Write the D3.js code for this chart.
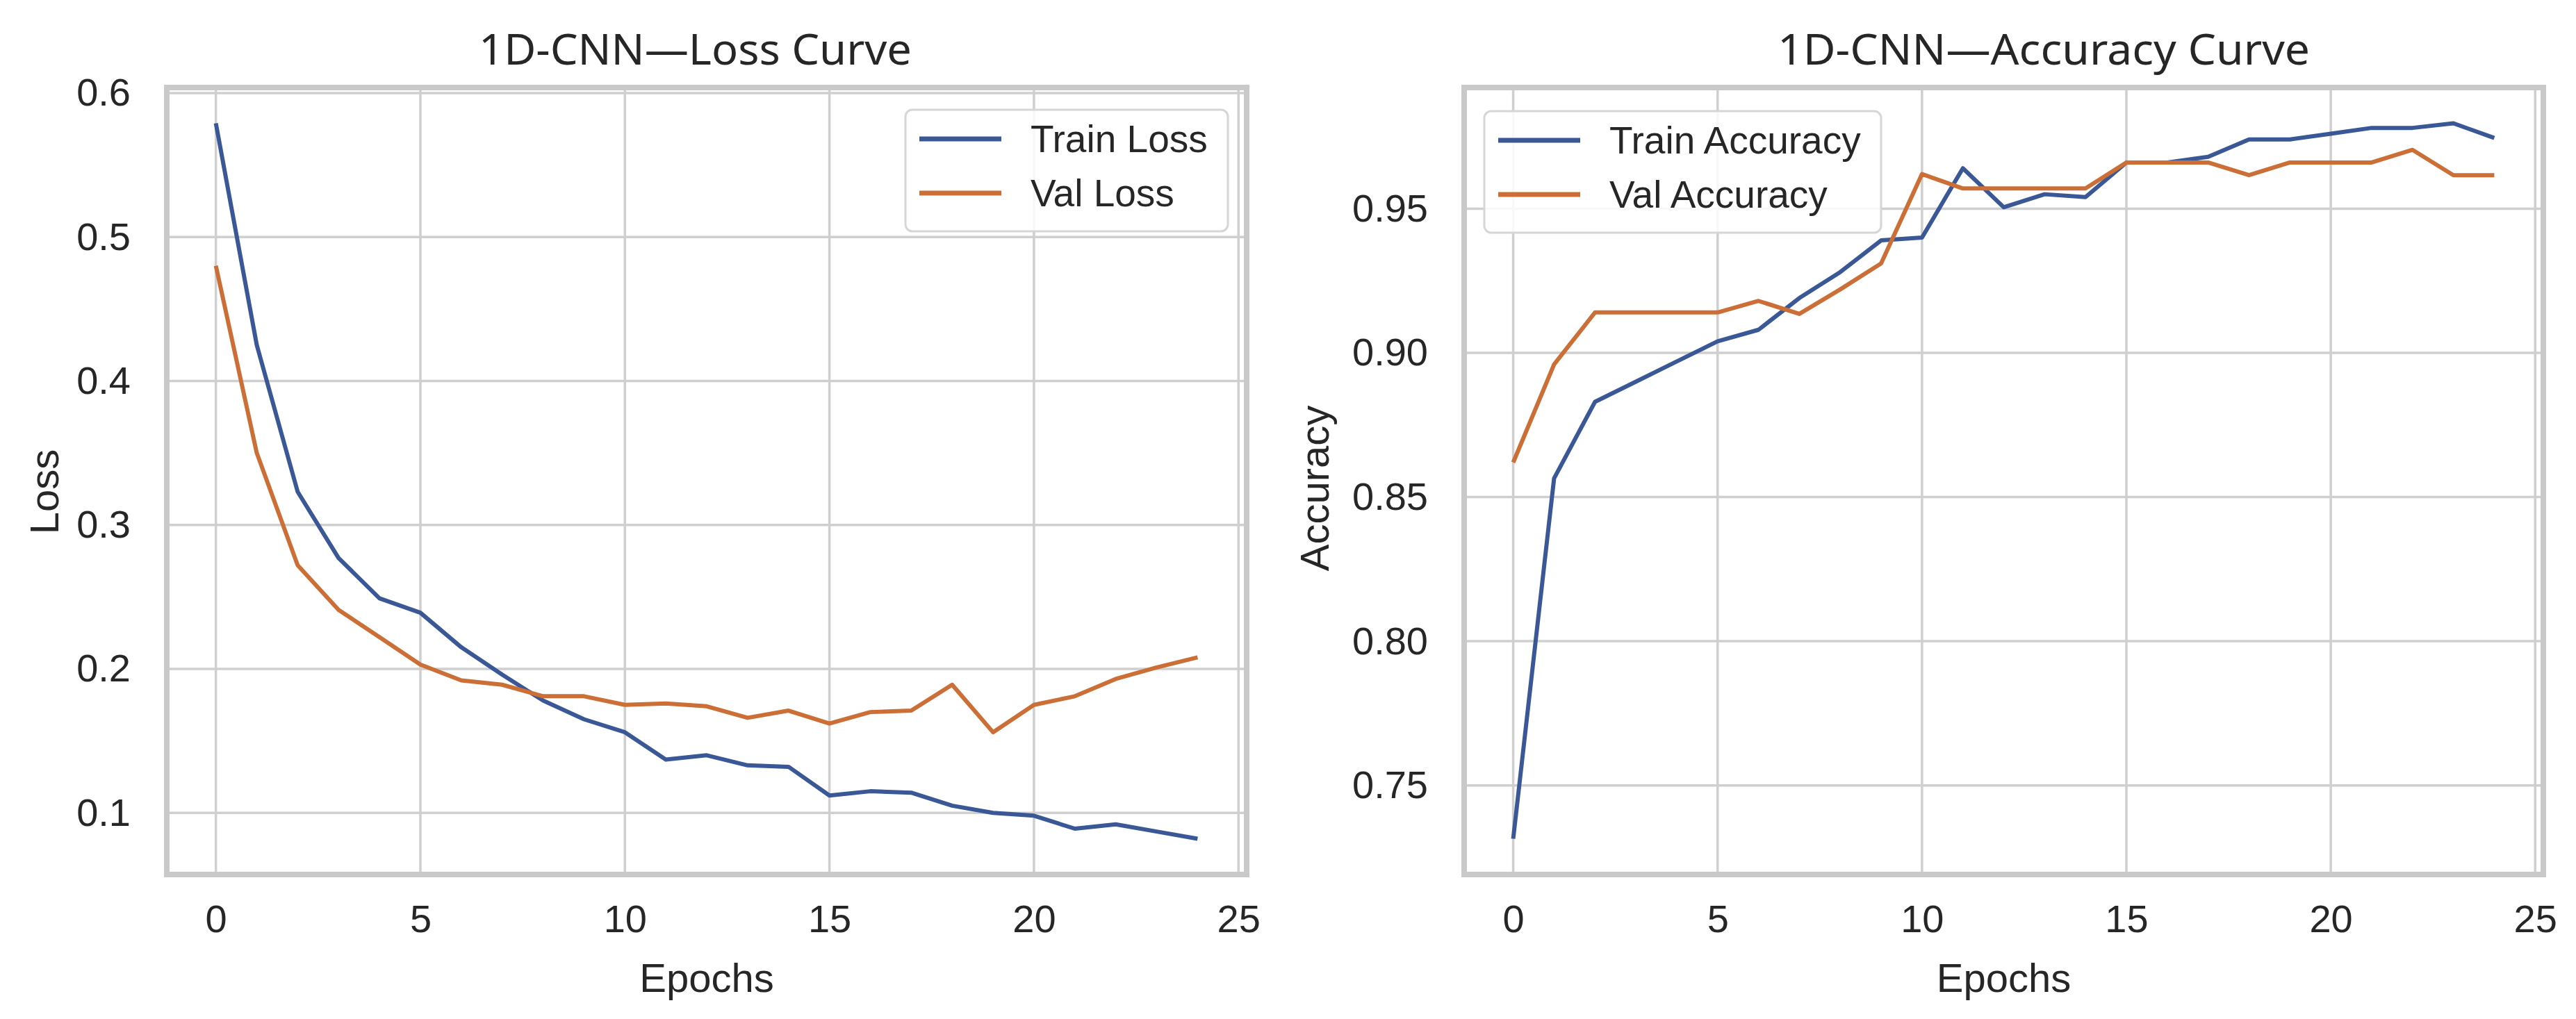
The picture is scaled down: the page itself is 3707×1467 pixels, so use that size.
<!DOCTYPE html>
<html>
<head>
<meta charset="utf-8">
<script src="https://cdn.jsdelivr.net/npm/d3@7"></script>
<style>
  html, body { margin: 0; padding: 0; background: #fff; }
  svg text { fill: #262626; }
</style>
</head>
<body>
<div id="board"></div>
<script>
'use strict';

// values
var epochs = [0, 1, 2, 3, 4, 5, 6, 7, 8, 9, 10, 11, 12, 13, 14, 15, 16, 17, 18, 19, 20, 21, 22, 23, 24];
var trainLoss = [0.579, 0.425, 0.323, 0.277, 0.249, 0.239, 0.215, 0.196, 0.178, 0.165, 0.156, 0.137, 0.140,
    0.133, 0.132, 0.112, 0.115, 0.114, 0.105, 0.100, 0.098, 0.089, 0.092, 0.087, 0.082];
var valLoss = [0.480, 0.350, 0.272, 0.241, 0.222, 0.203, 0.192, 0.189, 0.181, 0.181, 0.175, 0.176, 0.174,
    0.166, 0.171, 0.162, 0.170, 0.171, 0.189, 0.156, 0.175, 0.181, 0.193, 0.201, 0.208];
var trainAcc = [0.7315, 0.8565, 0.883, 0.890, 0.897, 0.904, 0.908, 0.919, 0.928, 0.939, 0.940, 0.964, 0.9505,
    0.955, 0.954, 0.966, 0.966, 0.968, 0.974, 0.974, 0.976, 0.978, 0.978, 0.9796, 0.9745];
var valAcc = [0.862, 0.896, 0.914, 0.914, 0.914, 0.914, 0.918, 0.9135, 0.922, 0.931, 0.962, 0.957, 0.957,
    0.957, 0.957, 0.966, 0.966, 0.966, 0.9616, 0.966, 0.966, 0.966, 0.9704, 0.9616, 0.9616];

var epochTicks = [0, 5, 10, 15, 20, 25];
var lossTicks = [0.1, 0.2, 0.3, 0.4, 0.5, 0.6];
var accTicks = [0.75, 0.80, 0.85, 0.90, 0.95];

var W = 3707, H = 1467;
var BLUE = '#3a5896', ORANGE = '#cb6f37', GRID = '#cfcfcf';

var svg = d3.select('#board').append('svg')
    .attr('width', W).attr('height', H)
    .style('font-family', '"Liberation Sans", Arial, sans-serif');

// matplotlib style: 5% padding around the data
function padded(lo, hi) {
    var m = (hi - lo) * 0.05;
    return [lo - m, hi + m];
}

function drawPanel(p) {
    var x = d3.scaleLinear().domain(padded(d3.min(epochs), d3.max(epochs))).range(p.xRange);
    var all = p.series[0].values.concat(p.series[1].values);
    var y = d3.scaleLinear().domain(padded(d3.min(all), d3.max(all))).range([1259, 126]);

    var g = svg.append('g');

    // grid
    g.selectAll('.vgrid').data(epochTicks).enter().append('line')
        .attr('x1', function(d) { return x(d); }).attr('x2', function(d) { return x(d); })
        .attr('y1', y.range()[1]).attr('y2', y.range()[0])
        .attr('stroke', GRID).attr('stroke-width', 3.5);
    g.selectAll('.hgrid').data(p.yTicks).enter().append('line')
        .attr('y1', function(d) { return y(d); }).attr('y2', function(d) { return y(d); })
        .attr('x1', p.xRange[0]).attr('x2', p.xRange[1])
        .attr('stroke', GRID).attr('stroke-width', 3.5);

    // frame
    g.append('rect')
        .attr('x', p.xRange[0]).attr('y', y.range()[1])
        .attr('width', p.xRange[1] - p.xRange[0]).attr('height', y.range()[0] - y.range()[1])
        .attr('fill', 'none').attr('stroke', '#c9c9c9').attr('stroke-width', 8);

    // axes
    var xAxis = g.append('g')
        .attr('transform', 'translate(0,' + y.range()[0] + ')')
        .call(d3.axisBottom(x).tickValues(epochTicks).tickSize(0).tickPadding(52));
    var yAxis = g.append('g')
        .attr('transform', 'translate(' + p.xRange[0] + ',0)')
        .call(d3.axisLeft(y).tickValues(p.yTicks).tickFormat(d3.format(p.fmt)).tickSize(0).tickPadding(52));
    [xAxis, yAxis].forEach(function(a) {
        a.select('.domain').remove();
        a.selectAll('text')
            .attr('font-size', 56)
            .attr('fill', '#262626')
            .style('font-family', '"Liberation Sans", Arial, sans-serif');
    });
    xAxis.selectAll('text').attr('dy', '0.55em');

    // lines
    var line = d3.line()
        .x(function(d, i) { return x(epochs[i]); })
        .y(function(d) { return y(d); });
    p.series.forEach(function(s) {
        g.append('path')
            .datum(s.values)
            .attr('d', line)
            .attr('fill', 'none')
            .attr('stroke', s.color)
            .attr('stroke-width', 6)
            .attr('stroke-linejoin', 'round');
    });

    // titles
    g.append('text')
        .attr('x', p.titleX).attr('y', 93)
        .attr('font-size', 62)
        .attr('textLength', p.titleLen).attr('lengthAdjust', 'spacingAndGlyphs')
        .style('font-family', '"Noto Sans", "DejaVu Sans", sans-serif')
        .text(p.title);
    g.append('text')
        .attr('x', (p.xRange[0] + p.xRange[1]) / 2).attr('y', 1428)
        .attr('text-anchor', 'middle').attr('font-size', 58)
        .text('Epochs');
    g.append('text')
        .attr('transform', 'translate(' + p.yLabelX + ',' + p.yLabelY + ') rotate(-90)')
        .attr('text-anchor', 'middle').attr('font-size', 58)
        .text(p.yLabel);

    // legend
    var lg = g.append('g').attr('transform', 'translate(' + p.legend[0] + ',' + p.legend[1] + ')');
    lg.append('rect')
        .attr('width', p.legend[2]).attr('height', 175)
        .attr('rx', 10).attr('ry', 10)
        .attr('fill', 'rgba(255,255,255,0.85)')
        .attr('stroke', '#d6d6d6').attr('stroke-width', 3);
    p.series.forEach(function(s, i) {
        var cy = 42 + i * 78;
        lg.append('line')
            .attr('x1', 20).attr('x2', 138)
            .attr('y1', cy).attr('y2', cy)
            .attr('stroke', s.color).attr('stroke-width', 7);
        lg.append('text')
            .attr('x', 180).attr('y', cy + 19)
            .attr('font-size', 55)
            .text(s.name);
    });
}

drawPanel({
    title: '1D-CNN\u2014Loss Curve',
    titleX: 689, titleLen: 623,
    xRange: [240, 1794],
    yTicks: lossTicks, fmt: '.1f',
    yLabel: 'Loss', yLabelX: 84, yLabelY: 708,
    legend: [1303, 158, 464],
    series: [
        { name: 'Train Loss', values: trainLoss, color: BLUE },
        { name: 'Val Loss', values: valLoss, color: ORANGE }
    ]
});

drawPanel({
    title: '1D-CNN\u2014Accuracy Curve',
    titleX: 2558, titleLen: 766,
    xRange: [2107, 3660],
    yTicks: accTicks, fmt: '.2f',
    yLabel: 'Accuracy', yLabelX: 1912, yLabelY: 703,
    legend: [2136, 160, 571],
    series: [
        { name: 'Train Accuracy', values: trainAcc, color: BLUE },
        { name: 'Val Accuracy', values: valAcc, color: ORANGE }
    ]
});
</script>
</body>
</html>
